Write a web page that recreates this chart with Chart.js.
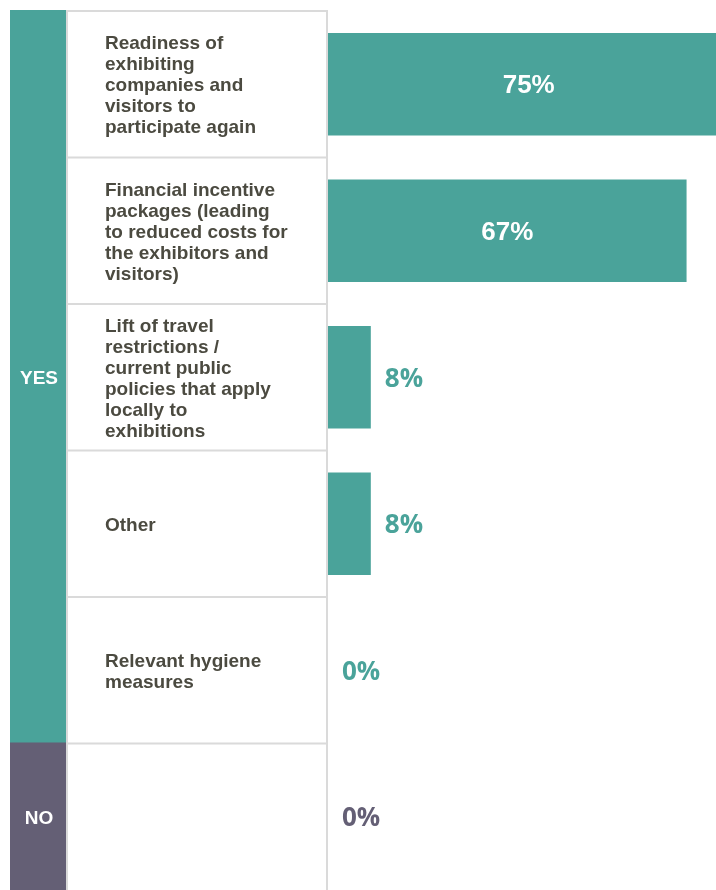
<!DOCTYPE html>
<html>
<head>
<meta charset="utf-8">
<script src="https://cdn.jsdelivr.net/npm/chart.js@4"></script>
<style>
html,body{margin:0;padding:0;background:#fff;}
#wrap{width:716px;height:890px;}
</style>
</head>
<body>
<div id="wrap"><canvas id="c" width="716" height="890"></canvas></div>
<script>
const categories = [
  ["Readiness of", "exhibiting", "companies and", "visitors to", "participate again"],
  ["Financial incentive", "packages (leading", "to reduced costs for", "the exhibitors and", "visitors)"],
  ["Lift of travel", "restrictions /", "current public", "policies that apply", "locally to", "exhibitions"],
  ["Other"],
  ["Relevant hygiene", "measures"],
  [""]
];
const values = [75, 67, 8, 8, 0, 0];
const groups = ["YES", "YES", "YES", "YES", "YES", "NO"];
const groupColors = { YES: "#4aa39a", NO: "#645f75" };
const barColors = groups.map(g => groupColors[g]);

const LABEL_BOX_LEFT = 66, LABEL_BOX_RIGHT = 327, BAND_LEFT = 10, TEXT_X = 105;

const tablePlugin = {
  id: "table",
  beforeDatasetsDraw(chart) {
    const ctx = chart.ctx, y = chart.scales.y;
    const step = y.getPixelForValue(1) - y.getPixelForValue(0);
    const half = step / 2;
    ctx.save();
    let start = 0;
    for (let i = 1; i <= groups.length; i++) {
      if (i === groups.length || groups[i] !== groups[start]) {
        const top = y.getPixelForValue(start) - half;
        const bot = y.getPixelForValue(i - 1) + half;
        ctx.fillStyle = groupColors[groups[start]];
        ctx.fillRect(BAND_LEFT, top - 1, LABEL_BOX_LEFT - BAND_LEFT, bot - top + 1);
        ctx.fillStyle = "#ffffff";
        ctx.font = "bold 19px 'Liberation Sans', Arial, sans-serif";
        ctx.textAlign = "center";
        ctx.textBaseline = "middle";
        ctx.fillText(groups[start], (BAND_LEFT + LABEL_BOX_LEFT) / 2 + 1, (top + bot) / 2 + 2);
        start = i;
      }
    }
    ctx.strokeStyle = "#dadada";
    ctx.lineWidth = 2;
    const topAll = y.getPixelForValue(0) - half;
    const botAll = y.getPixelForValue(categories.length - 1) + half;
    ctx.beginPath();
    ctx.moveTo(LABEL_BOX_LEFT + 1, topAll - 1); ctx.lineTo(LABEL_BOX_LEFT + 1, botAll);
    ctx.moveTo(LABEL_BOX_RIGHT, topAll - 1); ctx.lineTo(LABEL_BOX_RIGHT, botAll);
    for (let i = 0; i < categories.length; i++) {
      const t = y.getPixelForValue(i) - half;
      ctx.moveTo(LABEL_BOX_LEFT, t); ctx.lineTo(LABEL_BOX_RIGHT + 1, t);
    }
    ctx.stroke();
    ctx.fillStyle = "#4b4a40";
    ctx.font = "bold 19px 'Liberation Sans', Arial, sans-serif";
    ctx.textAlign = "left";
    ctx.textBaseline = "middle";
    const lh = 21;
    categories.forEach((lines, i) => {
      const cy = y.getPixelForValue(i) + 2;
      const y0 = cy - (lines.length - 1) * lh / 2;
      lines.forEach((ln, k) => ctx.fillText(ln, TEXT_X, y0 + k * lh));
    });
    ctx.restore();
  },
  afterDatasetsDraw(chart) {
    const ctx = chart.ctx, x = chart.scales.x, y = chart.scales.y;
    ctx.save();
    ctx.textBaseline = "middle";
    values.forEach((v, i) => {
      const cy = y.getPixelForValue(i) + 2;
      const txt = v + "%";
      if (v >= 30) {
        ctx.fillStyle = "#ffffff";
        ctx.font = "bold 26px 'Liberation Sans', Arial, sans-serif";
        ctx.textAlign = "center";
        ctx.fillText(txt, x.getPixelForValue(v / 2), cy);
      } else {
        ctx.fillStyle = barColors[i];
        ctx.font = "bold 26px 'Open Sans', sans-serif";
        ctx.textAlign = "left";
        ctx.fillText(txt, x.getPixelForValue(v) + 14, cy);
      }
    });
    ctx.restore();
  }
};

new Chart(document.getElementById("c"), {
  type: "bar",
  data: {
    labels: categories.map(c => c.join(" ")),
    datasets: [{
      data: values,
      backgroundColor: barColors,
      borderWidth: 0,
      barPercentage: 0.7,
      categoryPercentage: 1.0
    }]
  },
  options: {
    indexAxis: "y",
    responsive: false,
    animation: false,
    layout: { padding: { left: 328, top: 11, right: 0, bottom: 0 } },
    plugins: { legend: { display: false }, tooltip: { enabled: false } },
    scales: {
      x: { display: false, min: 0, max: 72.5 },
      y: { display: false }
    }
  },
  plugins: [tablePlugin]
});
</script>
</body>
</html>
